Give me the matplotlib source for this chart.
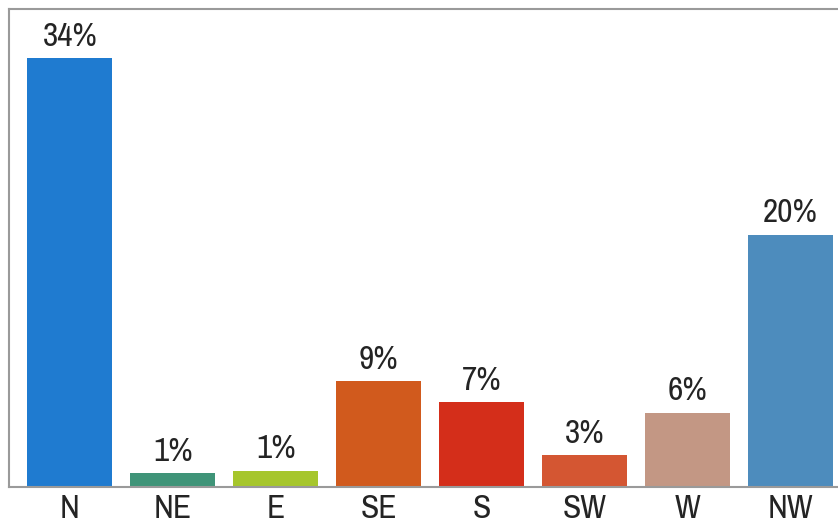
import matplotlib.pyplot as plt
import matplotlib.font_manager as fm
import numpy as np

directions = ['N', 'NE', 'E', 'SE', 'S', 'SW', 'W', 'NW']
shares = [34.0, 1.1, 1.3, 8.4, 6.7, 2.5, 5.9, 20.0]
share_labels = ['34%', '1%', '1%', '9%', '7%', '3%', '6%', '20%']
colors = ['#1f7bd0', '#3f9478', '#a6c62c', '#d15a1d', '#d42e1a', '#d45632', '#c39784', '#4d8cbd']

# pick a narrow face if one is installed (the original uses Arial Narrow)
names = sorted({f.name for f in fm.fontManager.ttflist})
narrow = [n for n in names if 'Narrow' in n or 'Condensed' in n]
plt.rcParams['font.family'] = narrow[:1] + ['DejaVu Sans']

x = np.arange(len(directions))

fig = plt.figure(figsize=(8.38, 5.28), dpi=100)
ax = fig.add_axes([9 / 838, 41 / 528, 829 / 838, 478 / 528])
ax.bar(x, shares, width=0.83, color=colors)

for xi, v, lab in zip(x, shares, share_labels):
    ax.text(xi, v + 0.5, lab, ha='center', va='bottom', fontsize=24,
            color='#242424')

ax.set_xlim(-0.59, 7.46)
ax.set_ylim(0, 34.0 * 478 / 429)
ax.set_xticks(x)
ax.set_xticklabels(directions, fontsize=24, color='#242424')
ax.tick_params(axis='x', length=0, pad=5)
ax.set_yticks([])
for side in ['left', 'top', 'bottom']:
    ax.spines[side].set_color('#9a9a9a')
    ax.spines[side].set_linewidth(1.5)
ax.spines['right'].set_visible(False)

plt.savefig('out.png', dpi=100)
